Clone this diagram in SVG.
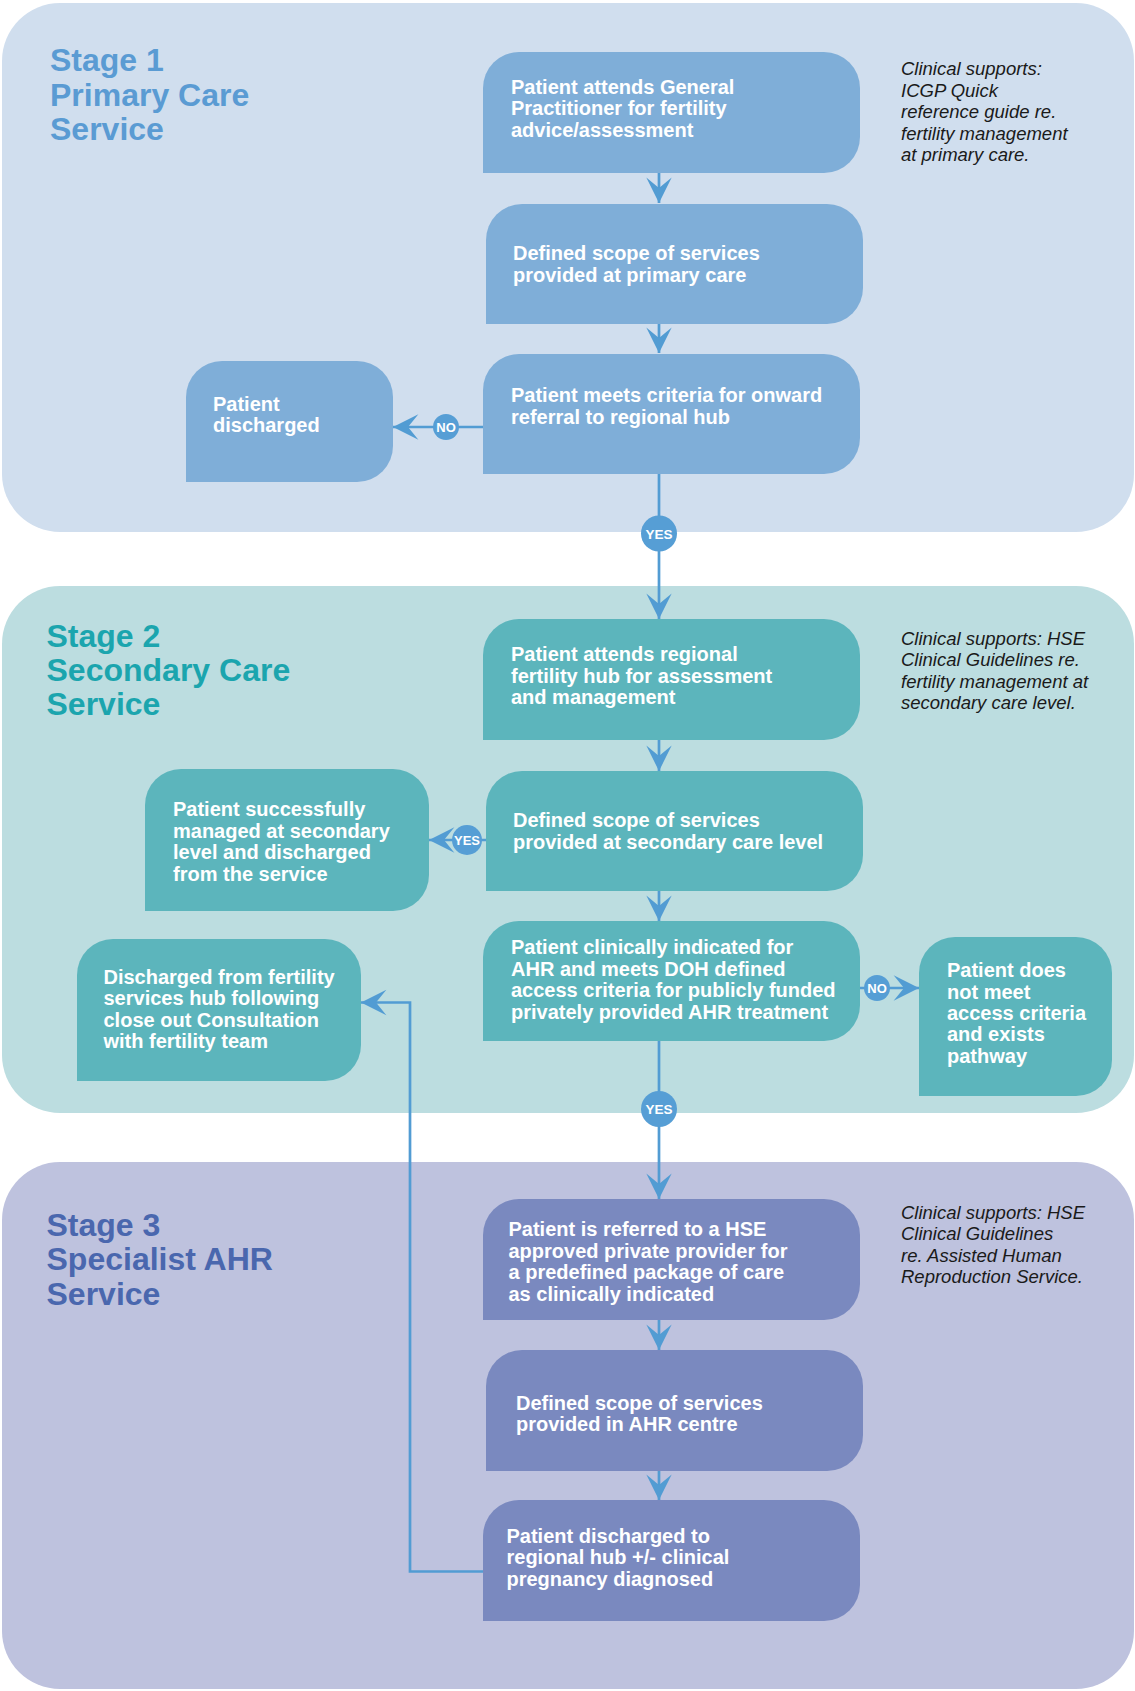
<svg xmlns="http://www.w3.org/2000/svg" width="1135" height="1691" viewBox="0 0 1135 1691">
  <defs>
    <style>
      .p1 { fill: #d0deee; }
      .p2 { fill: #bcdde0; }
      .p3 { fill: #bec2de; }
      .n1 { fill: #7faed8; }
      .n2 { fill: #5cb5bc; }
      .n3 { fill: #7a89bf; }
      .title { font-family: "Liberation Sans", Arial, Helvetica, sans-serif; font-weight: bold; font-size: 32px; }
      .h1 { fill: #5a9bd3; }
      .h2 { fill: #1ba5ae; }
      .h3 { fill: #4a67ae; }
      .t { font-family: "Liberation Sans", Arial, Helvetica, sans-serif; font-weight: bold; font-size: 20px; fill: #ffffff; }
      .note { font-family: "Liberation Sans", Arial, Helvetica, sans-serif; font-style: italic; font-size: 18.5px; fill: #1a1a1a; }
      .wire { fill: none; stroke: #529cd3; stroke-width: 2.7; }
      .dot { fill: #569ed5; }
      .lbl { font-family: "Liberation Sans", Arial, Helvetica, sans-serif; font-weight: bold; fill: #ffffff; text-anchor: middle; }
    </style>
    <marker id="arrow" markerUnits="userSpaceOnUse" markerWidth="30" markerHeight="30" viewBox="-24 -12 26 24" refX="0" refY="0" orient="auto">
      <path d="M0,0 L-22,-11 L-13,0 L-22,11 Z" fill="#529cd3"/>
    </marker>
  </defs>

  <!-- stage panels -->
  <g id="stage1">
    <rect class="p1" x="2" y="3" width="1132" height="529" rx="58" ry="58"/>
    <text class="title h1"><tspan x="50" y="71">Stage 1</tspan><tspan x="50" y="105.5">Primary Care</tspan><tspan x="50" y="140">Service</tspan></text>
    <text class="note"><tspan x="901" y="75">Clinical supports:</tspan><tspan x="901" y="96.5">ICGP Quick</tspan><tspan x="901" y="118">reference guide re.</tspan><tspan x="901" y="139.5">fertility management</tspan><tspan x="901" y="161">at primary care.</tspan></text>
  </g>
  <g id="stage2">
    <rect class="p2" x="2" y="586" width="1132" height="527" rx="58" ry="58"/>
    <text class="title h2"><tspan x="46.5" y="647">Stage 2</tspan><tspan x="46.5" y="681">Secondary Care</tspan><tspan x="46.5" y="715">Service</tspan></text>
    <text class="note"><tspan x="901" y="644.5">Clinical supports: HSE</tspan><tspan x="901" y="666">Clinical Guidelines re.</tspan><tspan x="901" y="687.5">fertility management at</tspan><tspan x="901" y="709">secondary care level.</tspan></text>
  </g>
  <g id="stage3">
    <rect class="p3" x="2" y="1162" width="1132" height="527" rx="58" ry="58"/>
    <text class="title h3"><tspan x="46.5" y="1236">Stage 3</tspan><tspan x="46.5" y="1270">Specialist AHR</tspan><tspan x="46.5" y="1305">Service</tspan></text>
    <text class="note"><tspan x="901" y="1218.5">Clinical supports: HSE</tspan><tspan x="901" y="1240">Clinical Guidelines</tspan><tspan x="901" y="1261.5">re. Assisted Human</tspan><tspan x="901" y="1283">Reproduction Service.</tspan></text>
  </g>

  <!-- connectors -->
  <g id="connectors">
    <path class="wire" d="M659,173 V203" marker-end="url(#arrow)"/>
    <path class="wire" d="M659,324 V353" marker-end="url(#arrow)"/>
    <path class="wire" d="M483,427 H393" marker-end="url(#arrow)"/>
    <path class="wire" d="M659,474 V619" marker-end="url(#arrow)"/>
    <path class="wire" d="M659,740 V771" marker-end="url(#arrow)"/>
    <path class="wire" d="M486,840 H429" marker-end="url(#arrow)"/>
    <path class="wire" d="M659,891 V921" marker-end="url(#arrow)"/>
    <path class="wire" d="M860,988 H919" marker-end="url(#arrow)"/>
    <path class="wire" d="M659,1041 V1199" marker-end="url(#arrow)"/>
    <path class="wire" d="M659,1320 V1350" marker-end="url(#arrow)"/>
    <path class="wire" d="M659,1471 V1500" marker-end="url(#arrow)"/>
    <path class="wire" d="M483,1571.5 H410 V1002.5 H361" marker-end="url(#arrow)"/>

    <circle class="dot" cx="446" cy="427" r="13"/>
    <text class="lbl" x="446" y="431.5" font-size="13">NO</text>
    <circle class="dot" cx="659" cy="533.5" r="18"/>
    <text class="lbl" x="659" y="538.5" font-size="13.5">YES</text>
    <circle class="dot" cx="467" cy="840" r="15"/>
    <text class="lbl" x="467" y="844.5" font-size="13">YES</text>
    <circle class="dot" cx="877" cy="988" r="13"/>
    <text class="lbl" x="877" y="992.5" font-size="13">NO</text>
    <circle class="dot" cx="659" cy="1109" r="18"/>
    <text class="lbl" x="659" y="1114" font-size="13.5">YES</text>
  </g>

  <!-- stage 1 nodes -->
  <g id="gp-visit">
    <path class="n1" d="M483,88 A36,36 0 0 1 519,52 H824 A36,36 0 0 1 860,88 V137 A36,36 0 0 1 824,173 H483 Z"/>
    <text class="t"><tspan x="511" y="93.5">Patient attends General</tspan><tspan x="511" y="115">Practitioner for fertility</tspan><tspan x="511" y="136.5">advice/assessment</tspan></text>
  </g>
  <g id="primary-scope">
    <path class="n1" d="M486,240 A36,36 0 0 1 522,204 H827 A36,36 0 0 1 863,240 V288 A36,36 0 0 1 827,324 H486 Z"/>
    <text class="t"><tspan x="513" y="260">Defined scope of services</tspan><tspan x="513" y="281.5">provided at primary care</tspan></text>
  </g>
  <g id="referral-criteria">
    <path class="n1" d="M483,390 A36,36 0 0 1 519,354 H824 A36,36 0 0 1 860,390 V438 A36,36 0 0 1 824,474 H483 Z"/>
    <text class="t"><tspan x="511" y="402">Patient meets criteria for onward</tspan><tspan x="511" y="423.5">referral to regional hub</tspan></text>
  </g>
  <g id="discharged-primary">
    <path class="n1" d="M186,397 A36,36 0 0 1 222,361 H357 A36,36 0 0 1 393,397 V446 A36,36 0 0 1 357,482 H186 Z"/>
    <text class="t"><tspan x="213" y="410.5">Patient</tspan><tspan x="213" y="431.5">discharged</tspan></text>
  </g>

  <!-- stage 2 nodes -->
  <g id="regional-hub">
    <path class="n2" d="M483,655 A36,36 0 0 1 519,619 H824 A36,36 0 0 1 860,655 V704 A36,36 0 0 1 824,740 H483 Z"/>
    <text class="t"><tspan x="511" y="661">Patient attends regional</tspan><tspan x="511" y="682.5">fertility hub for assessment</tspan><tspan x="511" y="703.5">and management</tspan></text>
  </g>
  <g id="secondary-scope">
    <path class="n2" d="M486,807 A36,36 0 0 1 522,771 H827 A36,36 0 0 1 863,807 V855 A36,36 0 0 1 827,891 H486 Z"/>
    <text class="t"><tspan x="513" y="827">Defined scope of services</tspan><tspan x="513" y="848.5">provided at secondary care level</tspan></text>
  </g>
  <g id="ahr-indicated">
    <path class="n2" d="M483,957 A36,36 0 0 1 519,921 H824 A36,36 0 0 1 860,957 V1005 A36,36 0 0 1 824,1041 H483 Z"/>
    <text class="t"><tspan x="511" y="954">Patient clinically indicated for</tspan><tspan x="511" y="975.5">AHR and meets DOH defined</tspan><tspan x="511" y="997">access criteria for publicly funded</tspan><tspan x="511" y="1018.5">privately provided AHR treatment</tspan></text>
  </g>
  <g id="managed-secondary">
    <path class="n2" d="M145,805 A36,36 0 0 1 181,769 H393 A36,36 0 0 1 429,805 V875 A36,36 0 0 1 393,911 H145 Z"/>
    <text class="t"><tspan x="173" y="816">Patient successfully</tspan><tspan x="173" y="837.5">managed at secondary</tspan><tspan x="173" y="859">level and discharged</tspan><tspan x="173" y="880.5">from the service</tspan></text>
  </g>
  <g id="hub-discharge">
    <path class="n2" d="M77,975 A36,36 0 0 1 113,939 H325 A36,36 0 0 1 361,975 V1045 A36,36 0 0 1 325,1081 H77 Z"/>
    <text class="t"><tspan x="103.5" y="984">Discharged from fertility</tspan><tspan x="103.5" y="1005">services hub following</tspan><tspan x="103.5" y="1026.5">close out Consultation</tspan><tspan x="103.5" y="1047.5">with fertility team</tspan></text>
  </g>
  <g id="not-eligible">
    <path class="n2" d="M919,973 A36,36 0 0 1 955,937 H1076 A36,36 0 0 1 1112,973 V1060 A36,36 0 0 1 1076,1096 H919 Z"/>
    <text class="t"><tspan x="947" y="977">Patient does</tspan><tspan x="947" y="998.5">not meet</tspan><tspan x="947" y="1020">access criteria</tspan><tspan x="947" y="1041">and exists</tspan><tspan x="947" y="1062.5">pathway</tspan></text>
  </g>

  <!-- stage 3 nodes -->
  <g id="private-provider">
    <path class="n3" d="M483,1235 A36,36 0 0 1 519,1199 H824 A36,36 0 0 1 860,1235 V1284 A36,36 0 0 1 824,1320 H483 Z"/>
    <text class="t"><tspan x="508.5" y="1236">Patient is referred to a HSE</tspan><tspan x="508.5" y="1257.5">approved private provider for</tspan><tspan x="508.5" y="1279">a predefined package of care</tspan><tspan x="508.5" y="1300.5">as clinically indicated</tspan></text>
  </g>
  <g id="ahr-scope">
    <path class="n3" d="M486,1386 A36,36 0 0 1 522,1350 H827 A36,36 0 0 1 863,1386 V1435 A36,36 0 0 1 827,1471 H486 Z"/>
    <text class="t"><tspan x="516" y="1409.5">Defined scope of services</tspan><tspan x="516" y="1431">provided in AHR centre</tspan></text>
  </g>
  <g id="ahr-discharge">
    <path class="n3" d="M483,1536 A36,36 0 0 1 519,1500 H824 A36,36 0 0 1 860,1536 V1585 A36,36 0 0 1 824,1621 H483 Z"/>
    <text class="t"><tspan x="506.5" y="1543">Patient discharged to</tspan><tspan x="506.5" y="1564">regional hub +/- clinical</tspan><tspan x="506.5" y="1585.5">pregnancy diagnosed</tspan></text>
  </g>
</svg>
